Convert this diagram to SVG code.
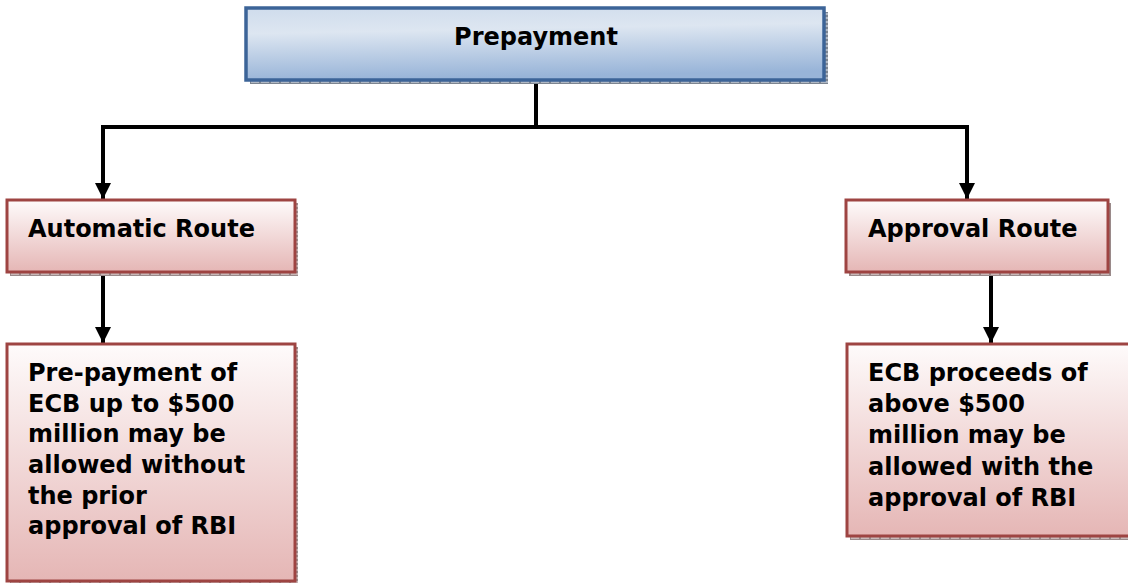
<svg xmlns="http://www.w3.org/2000/svg" width="1128" height="583" viewBox="0 0 1128 583">
  <defs>
    <style>
      .lbl { font-family: "DejaVu Sans", Verdana, sans-serif; font-weight: bold; font-size: 24px; fill: #000; }
      .red { fill: url(#redGrad); stroke: #9e4442; stroke-width: 3; }
      .blue { fill: url(#blueGrad); stroke: #3c6498; stroke-width: 3.5; }
      .shadowR { fill: url(#shadowPat); }
      .shadowB { fill: url(#shadowPatB); }
      .conn { fill: none; stroke: #000; stroke-width: 4; }
    </style>
    <linearGradient id="redGrad" x1="0" y1="0" x2="0" y2="1">
      <stop offset="0" stop-color="#fefbfb"/>
      <stop offset="1" stop-color="#e5b6b5"/>
    </linearGradient>
    <linearGradient id="blueGrad" x1="0" y1="0" x2="0.15" y2="1">
      <stop offset="0" stop-color="#cfdcec"/>
      <stop offset="0.35" stop-color="#dde6f1"/>
      <stop offset="1" stop-color="#98b4d8"/>
    </linearGradient>
    <pattern id="shadowPat" width="10" height="4" patternUnits="userSpaceOnUse">
      <rect width="10" height="4" fill="#9a8a8a"/>
      <rect x="1" y="1" width="8" height="2" fill="#c8b8b8"/>
    </pattern>
    <pattern id="shadowPatB" width="10" height="4" patternUnits="userSpaceOnUse">
      <rect width="10" height="4" fill="#7d8590"/>
      <rect x="1" y="1" width="8" height="2" fill="#b0b8c4"/>
    </pattern>
    <marker id="arrow" viewBox="0 0 16 16" refX="16" refY="8" markerWidth="16" markerHeight="16" markerUnits="userSpaceOnUse" orient="auto">
      <path d="M0,0 L16,8 L0,16 Z" fill="#000"/>
    </marker>
  </defs>

  <g id="connectors">
    <path class="conn" d="M536,81 V127"/>
    <path class="conn" d="M103,127 H967"/>
    <path class="conn" d="M103,125 V199" marker-end="url(#arrow)"/>
    <path class="conn" d="M967,125 V199" marker-end="url(#arrow)"/>
    <path class="conn" d="M103,273 V343" marker-end="url(#arrow)"/>
    <path class="conn" d="M991,273 V343" marker-end="url(#arrow)"/>
  </g>

  <g id="node-prepayment">
    <rect class="shadowB" x="250" y="12" width="578" height="72"/>
    <rect class="blue" x="246" y="8" width="578" height="72"/>
    <text class="lbl" x="536" y="45" text-anchor="middle">Prepayment</text>
  </g>

  <g id="node-automatic">
    <rect class="shadowR" x="10" y="203" width="288" height="73"/>
    <rect class="red" x="7" y="200" width="288" height="72"/>
    <text class="lbl" x="28" y="237">Automatic Route</text>
  </g>

  <g id="node-approval">
    <rect class="shadowR" x="849" y="203" width="262" height="73"/>
    <rect class="red" x="846" y="200" width="262" height="72"/>
    <text class="lbl" x="868" y="237">Approval Route</text>
  </g>

  <g id="node-auto-detail">
    <rect class="shadowR" x="10" y="347" width="288" height="240"/>
    <rect class="red" x="7" y="344" width="288" height="237"/>
    <text class="lbl" x="28" y="381">Pre-payment of</text>
    <text class="lbl" x="28" y="412">ECB up to $500</text>
    <text class="lbl" x="28" y="442">million may be</text>
    <text class="lbl" x="28" y="473">allowed without</text>
    <text class="lbl" x="28" y="504">the prior</text>
    <text class="lbl" x="28" y="534">approval of RBI</text>
  </g>

  <g id="node-approval-detail">
    <rect class="shadowR" x="850" y="347" width="290" height="193"/>
    <rect class="red" x="847" y="344" width="290" height="192"/>
    <text class="lbl" x="868" y="381">ECB proceeds of</text>
    <text class="lbl" x="868" y="412">above $500</text>
    <text class="lbl" x="868" y="443">million may be</text>
    <text class="lbl" x="868" y="475">allowed with the</text>
    <text class="lbl" x="868" y="506">approval of RBI</text>
  </g>
</svg>
